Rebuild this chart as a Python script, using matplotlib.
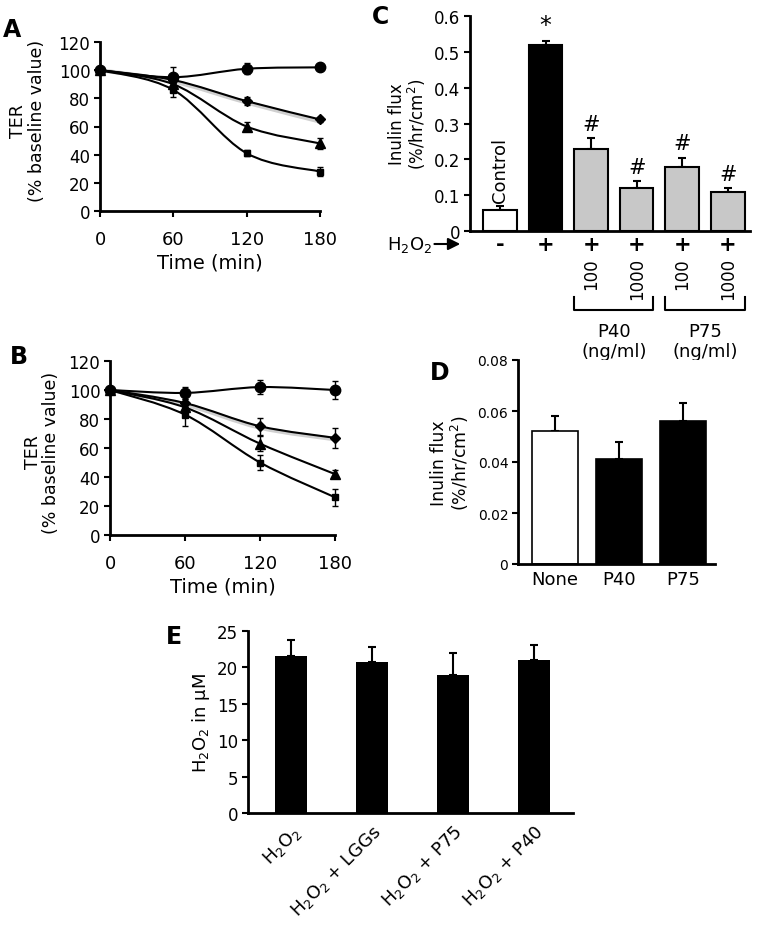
import matplotlib
matplotlib.use("Agg")
import matplotlib.pyplot as plt
import numpy as np
from matplotlib.path import Path
from matplotlib.patches import PathPatch
from matplotlib.transforms import blended_transform_factory

plt.rcParams['font.family'] = ['DejaVu Sans']
plt.rcParams['mathtext.fontset'] = 'dejavusans'

W, H = 759, 929

# ---- data ----
time_min = [0, 60, 120, 180]

a_circle = [100, 95, 101, 102]
a_circle_err = [0, 7, 4, 1]
a_diamond = [100, 93, 78, 65]
a_diamond_err = [0, 2, 3, 2]
a_grey = [100, 92, 77, 63.5]
a_triangle = [100, 90, 60, 48]
a_triangle_err = [0, 2, 3, 4]
a_square = [100, 86, 41, 28]
a_square_err = [0, 5, 2, 3]

b_circle = [100, 98, 102, 100]
b_circle_err = [0, 4, 5, 6]
b_diamond = [100, 91, 75, 67]
b_diamond_err = [0, 3, 6, 7]
b_grey = [100, 90, 74, 66]
b_triangle = [100, 88, 63, 42]
b_triangle_err = [0, 3, 5, 3]
b_square = [100, 83, 50, 26]
b_square_err = [0, 8, 5, 6]

c_signs = ['-', '+', '+', '+', '+', '+']
c_dose = ['', '', '100', '1000', '100', '1000']
c_flux = [0.06, 0.52, 0.23, 0.12, 0.18, 0.11]
c_err = [0.01, 0.01, 0.03, 0.02, 0.025, 0.01]
c_colors = ['white', 'black', '#c8c8c8', '#c8c8c8', '#c8c8c8', '#c8c8c8']
c_marks = ['', '*', '#', '#', '#', '#']

d_labels = ['None', 'P40', 'P75']
d_flux = [0.052, 0.041, 0.056]
d_err = [0.006, 0.007, 0.007]
d_colors = ['white', 'black', 'black']

e_labels = ['H$_2$O$_2$', 'H$_2$O$_2$ + LGGs', 'H$_2$O$_2$ + P75', 'H$_2$O$_2$ + P40']
e_conc = [21.5, 20.8, 19.0, 21.0]
e_err = [2.2, 2.0, 3.0, 2.1]

fig = plt.figure(figsize=(W / 100, H / 100), dpi=100)


def add_ax(left, top, right, bottom):
    return fig.add_axes([left / W, 1 - bottom / H, (right - left) / W, (bottom - top) / H])


def style(ax, fs=12):
    for s in ['top', 'right']:
        ax.spines[s].set_visible(False)
    for s in ['left', 'bottom']:
        ax.spines[s].set_linewidth(2)
    ax.tick_params(width=1.5, length=4, labelsize=fs, pad=3)


def smooth(ax, x, y, **kw):
    # excel-like smoothed line through the points (catmull-rom bezier)
    x = np.asarray(x, float)
    y = np.asarray(y, float)
    px = np.concatenate([[x[0]], x, [x[-1]]])
    py = np.concatenate([[y[0]], y, [y[-1]]])
    verts = [(x[0], y[0])]
    codes = [Path.MOVETO]
    for i in range(1, len(px) - 2):
        c1 = (px[i] + (px[i + 1] - px[i - 1]) / 6, py[i] + (py[i + 1] - py[i - 1]) / 6)
        c2 = (px[i + 1] - (px[i + 2] - px[i]) / 6, py[i + 1] - (py[i + 2] - py[i]) / 6)
        verts += [c1, c2, (px[i + 1], py[i + 1])]
        codes += [Path.CURVE4] * 3
    ax.add_patch(PathPatch(Path(verts, codes), fill=False, **kw))


def ter_panel(ax, series, label, lab_xy, ylab_xy):
    style(ax)
    ax.set_xlim(0, 180)
    ax.set_ylim(0, 120)
    ax.set_xticks(time_min)
    ax.set_yticks(range(0, 121, 20))
    ax.tick_params(axis='x', pad=10, labelsize=13)
    for vals, err, mk, ms, col, lw in series:
        smooth(ax, time_min, vals, color=col, lw=lw, zorder=2 if col != 'black' else 3)
        if mk:
            ax.errorbar(time_min, vals, yerr=err, fmt=mk, ms=ms, color='black', ecolor='black',
                        elinewidth=1, capsize=2.5, capthick=1, clip_on=False, zorder=4)
    ax.set_ylabel('TER\n(% baseline value)', fontsize=12.5, labelpad=6, linespacing=1.05)
    ax.yaxis.set_label_coords(*ylab_xy)
    ax.set_xlabel('Time (min)', fontsize=14, labelpad=3)
    fig.text(lab_xy[0] / W, 1 - lab_xy[1] / H, label, fontsize=17, fontweight='bold',
             va='center', ha='left')


# ---- A ----
axA = add_ax(100, 43, 320, 212)
ter_panel(axA, [
    (a_grey, None, None, 0, '#d0d0d0', 3),
    (a_circle, a_circle_err, 'o', 7.5, 'black', 1.5),
    (a_diamond, a_diamond_err, 'D', 5, 'black', 1.5),
    (a_triangle, a_triangle_err, '^', 6.5, 'black', 1.5),
    (a_square, a_square_err, 's', 5, 'black', 1.5),
], 'A', (3, 30), (-0.245, 0.54))

# ---- B ----
axB = add_ax(110, 362, 335, 536)
ter_panel(axB, [
    (b_grey, None, None, 0, '#d0d0d0', 3),
    (b_circle, b_circle_err, 'o', 7.5, 'black', 1.5),
    (b_diamond, b_diamond_err, 'D', 5, 'black', 1.5),
    (b_triangle, b_triangle_err, '^', 6.5, 'black', 1.5),
    (b_square, b_square_err, 's', 5, 'black', 1.5),
], 'B', (10, 357), (-0.22, 0.48))

# ---- C ----
axC = add_ax(470, 17, 750, 232)
style(axC, 12)
xc = np.arange(len(c_flux))
axC.bar(xc, c_flux, width=0.74, color=c_colors, edgecolor='black', linewidth=1.5, zorder=2)
axC.errorbar(xc, c_flux, yerr=[np.zeros(len(c_err)), c_err], fmt='none', ecolor='black',
             elinewidth=1.5, capsize=3, capthick=1.5, zorder=1)
axC.set_xlim(-0.66, 5.49)
axC.set_ylim(0, 0.6)
axC.set_yticks([0, 0.1, 0.2, 0.3, 0.4, 0.5, 0.6])
axC.set_yticklabels(['0', '0.1', '0.2', '0.3', '0.4', '0.5', '0.6'])
axC.set_xticks([])
for i, m in enumerate(c_marks):
    if m:
        axC.text(xc[i], c_flux[i] + c_err[i] + 0.012, m, ha='center', va='bottom',
                 fontsize=15 if m == '#' else 17)
axC.text(xc[0], c_flux[0] + c_err[0] + 0.012, 'Control', rotation=90, ha='center', va='bottom',
         fontsize=13)
axC.set_ylabel('Inulin flux\n(%/hr/cm$^2$)', fontsize=12, labelpad=4, linespacing=1.0)
fig.text(372 / W, 1 - 17 / H, 'C', fontsize=17, fontweight='bold', va='center', ha='left')

tc = blended_transform_factory(axC.transData, axC.transAxes)
row_y = -13 / 215
for i, s in enumerate(c_signs):
    axC.text(xc[i], row_y, s, transform=tc, ha='center', va='center', fontsize=15,
             fontweight='bold')
    if c_dose[i]:
        axC.text(xc[i], -26 / 215, c_dose[i], transform=tc, ha='center', va='top',
                 rotation=90, fontsize=12)
axC.text(-0.135, row_y, 'H$_2$O$_2$', transform=axC.transAxes, ha='right', va='center', fontsize=13)
axC.annotate('', xy=(-0.025, row_y), xytext=(-0.137, row_y), xycoords='axes fraction',
             textcoords='axes fraction',
             arrowprops=dict(arrowstyle='-|>', color='black', lw=1.5, mutation_scale=18))
br_top, br_bot = -66 / 215, -79 / 215
for lo, hi, name in [(2, 3, 'P40'), (4, 5, 'P75')]:
    xs = [lo - 0.37, lo - 0.37, hi + 0.37, hi + 0.37]
    ys = [br_top, br_bot, br_bot, br_top]
    axC.plot(xs, ys, color='black', lw=1.5, transform=tc, clip_on=False)
    axC.text((lo + hi) / 2, -91 / 215, name + '\n(ng/ml)', transform=tc, ha='center', va='top',
             fontsize=13, linespacing=1.15)

# ---- D ----
axD = add_ax(518, 361, 715, 565)
style(axD, 10)
xd = np.arange(len(d_flux))
axD.bar(xd, d_flux, width=0.72, color=d_colors, edgecolor='black', linewidth=1.2, zorder=2)
axD.errorbar(xd, d_flux, yerr=[np.zeros(len(d_err)), d_err], fmt='none', ecolor='black',
             elinewidth=1.5, capsize=3, capthick=1.5, zorder=1)
axD.set_xlim(-0.58, 2.5)
axD.set_ylim(0, 0.08)
axD.set_yticks([0, 0.02, 0.04, 0.06, 0.08])
axD.set_yticklabels(['0', '0.02', '0.04', '0.06', '0.08'])
axD.set_xticks(xd)
axD.set_xticklabels(d_labels, fontsize=13)
axD.tick_params(axis='x', length=0, pad=4)
axD.set_ylabel('Inulin flux\n(%/hr/cm$^2$)', fontsize=12.5, labelpad=5, linespacing=1.0)
fig.text(430 / W, 1 - 373 / H, 'D', fontsize=17, fontweight='bold', va='center', ha='left')

# ---- E ----
axE = add_ax(248, 632, 573, 814)
style(axE, 12)
xe = np.arange(len(e_conc))
axE.bar(xe, e_conc, width=0.4, color='black', zorder=2)
axE.errorbar(xe, e_conc, yerr=[np.zeros(len(e_err)), e_err], fmt='none', ecolor='black',
             elinewidth=1.5, capsize=3, capthick=1.5, zorder=1)
axE.set_xlim(-0.53, 3.48)
axE.set_ylim(0, 25)
axE.set_yticks(range(0, 26, 5))
axE.set_xticks(xe)
axE.set_xticklabels(e_labels, rotation=45, ha='right', rotation_mode='anchor', fontsize=13)
axE.tick_params(axis='x', length=0, pad=6)
axE.set_ylabel('H$_2$O$_2$ in μM', fontsize=13, labelpad=4)
fig.text(166 / W, 1 - 637 / H, 'E', fontsize=17, fontweight='bold', va='center', ha='left')

fig.savefig('out.png', dpi=100)
